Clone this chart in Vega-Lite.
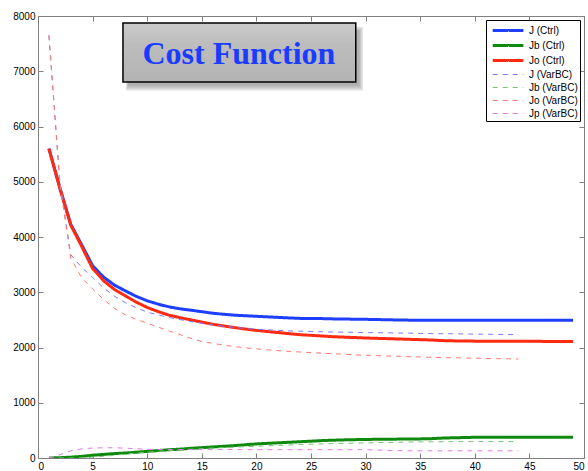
{
  "$schema": "https://vega.github.io/schema/vega-lite/v6.json",
  "width": 546,
  "height": 442,
  "autosize": "none",
  "padding": {"left": 38, "top": 16, "right": 4, "bottom": 13},
  "background": "white",
  "config": {
    "view": {"stroke": null},
    "axis": {
      "domainColor": "#808080", "tickColor": "#808080", "tickSize": -5,
      "labelColor": "#000", "labelFont": "Liberation Sans", "labelFontSize": 10,
      "grid": false, "title": null, "labelPadding": 8
    },
    "legend": {
      "orient": "top-right", "offset": 4, "padding": 2,
      "strokeColor": "#000", "fillColor": "#fff",
      "labelFont": "Liberation Sans", "labelFontSize": 10, "labelColor": "#000",
      "symbolType": "M-0.55,0L3.9,0", "symbolSize": 190, "rowPadding": 0, "labelOffset": 24, "title": null
    }
  },
  "datasets": {
    "lines": [
      {"x":1,"s":"J (Ctrl)","v":5600},{"x":2,"s":"J (Ctrl)","v":4890},{"x":3,"s":"J (Ctrl)","v":4230},{"x":4,"s":"J (Ctrl)","v":3860},{"x":5,"s":"J (Ctrl)","v":3480},{"x":6,"s":"J (Ctrl)","v":3275},{"x":7,"s":"J (Ctrl)","v":3130},{"x":8,"s":"J (Ctrl)","v":3025},{"x":9,"s":"J (Ctrl)","v":2925},{"x":10,"s":"J (Ctrl)","v":2845},
      {"x":11,"s":"J (Ctrl)","v":2785},{"x":12,"s":"J (Ctrl)","v":2735},{"x":13,"s":"J (Ctrl)","v":2700},{"x":14,"s":"J (Ctrl)","v":2675},{"x":15,"s":"J (Ctrl)","v":2648},{"x":16,"s":"J (Ctrl)","v":2620},{"x":17,"s":"J (Ctrl)","v":2602},{"x":18,"s":"J (Ctrl)","v":2585},{"x":19,"s":"J (Ctrl)","v":2575},{"x":20,"s":"J (Ctrl)","v":2565},
      {"x":21,"s":"J (Ctrl)","v":2555},{"x":22,"s":"J (Ctrl)","v":2545},{"x":23,"s":"J (Ctrl)","v":2535},{"x":24,"s":"J (Ctrl)","v":2527},{"x":25,"s":"J (Ctrl)","v":2525},{"x":26,"s":"J (Ctrl)","v":2523},{"x":27,"s":"J (Ctrl)","v":2518},{"x":28,"s":"J (Ctrl)","v":2516},{"x":29,"s":"J (Ctrl)","v":2512},{"x":30,"s":"J (Ctrl)","v":2510},
      {"x":31,"s":"J (Ctrl)","v":2506},{"x":32,"s":"J (Ctrl)","v":2502},{"x":33,"s":"J (Ctrl)","v":2498},{"x":34,"s":"J (Ctrl)","v":2495},{"x":35,"s":"J (Ctrl)","v":2495},{"x":36,"s":"J (Ctrl)","v":2495},{"x":37,"s":"J (Ctrl)","v":2495},{"x":38,"s":"J (Ctrl)","v":2495},{"x":39,"s":"J (Ctrl)","v":2495},{"x":40,"s":"J (Ctrl)","v":2495},
      {"x":41,"s":"J (Ctrl)","v":2495},{"x":42,"s":"J (Ctrl)","v":2495},{"x":43,"s":"J (Ctrl)","v":2495},{"x":44,"s":"J (Ctrl)","v":2495},{"x":45,"s":"J (Ctrl)","v":2495},{"x":46,"s":"J (Ctrl)","v":2495},{"x":47,"s":"J (Ctrl)","v":2495},{"x":48,"s":"J (Ctrl)","v":2495},{"x":49,"s":"J (Ctrl)","v":2495},

      {"x":1,"s":"Jb (Ctrl)","v":0},{"x":2,"s":"Jb (Ctrl)","v":5},{"x":3,"s":"Jb (Ctrl)","v":15},{"x":4,"s":"Jb (Ctrl)","v":30},{"x":5,"s":"Jb (Ctrl)","v":50},{"x":6,"s":"Jb (Ctrl)","v":65},{"x":7,"s":"Jb (Ctrl)","v":80},{"x":8,"s":"Jb (Ctrl)","v":90},{"x":9,"s":"Jb (Ctrl)","v":105},{"x":10,"s":"Jb (Ctrl)","v":120},
      {"x":11,"s":"Jb (Ctrl)","v":135},{"x":12,"s":"Jb (Ctrl)","v":150},{"x":13,"s":"Jb (Ctrl)","v":160},{"x":14,"s":"Jb (Ctrl)","v":175},{"x":15,"s":"Jb (Ctrl)","v":188},{"x":16,"s":"Jb (Ctrl)","v":200},{"x":17,"s":"Jb (Ctrl)","v":212},{"x":18,"s":"Jb (Ctrl)","v":225},{"x":19,"s":"Jb (Ctrl)","v":240},{"x":20,"s":"Jb (Ctrl)","v":255},
      {"x":21,"s":"Jb (Ctrl)","v":265},{"x":22,"s":"Jb (Ctrl)","v":275},{"x":23,"s":"Jb (Ctrl)","v":285},{"x":24,"s":"Jb (Ctrl)","v":295},{"x":25,"s":"Jb (Ctrl)","v":305},{"x":26,"s":"Jb (Ctrl)","v":315},{"x":27,"s":"Jb (Ctrl)","v":322},{"x":28,"s":"Jb (Ctrl)","v":328},{"x":29,"s":"Jb (Ctrl)","v":332},{"x":30,"s":"Jb (Ctrl)","v":336},
      {"x":31,"s":"Jb (Ctrl)","v":338},{"x":32,"s":"Jb (Ctrl)","v":340},{"x":33,"s":"Jb (Ctrl)","v":342},{"x":34,"s":"Jb (Ctrl)","v":344},{"x":35,"s":"Jb (Ctrl)","v":346},{"x":36,"s":"Jb (Ctrl)","v":350},{"x":37,"s":"Jb (Ctrl)","v":360},{"x":38,"s":"Jb (Ctrl)","v":366},{"x":39,"s":"Jb (Ctrl)","v":370},{"x":40,"s":"Jb (Ctrl)","v":375},
      {"x":41,"s":"Jb (Ctrl)","v":375},{"x":42,"s":"Jb (Ctrl)","v":375},{"x":43,"s":"Jb (Ctrl)","v":375},{"x":44,"s":"Jb (Ctrl)","v":375},{"x":45,"s":"Jb (Ctrl)","v":375},{"x":46,"s":"Jb (Ctrl)","v":375},{"x":47,"s":"Jb (Ctrl)","v":375},{"x":48,"s":"Jb (Ctrl)","v":375},{"x":49,"s":"Jb (Ctrl)","v":375},

      {"x":1,"s":"Jo (Ctrl)","v":5600},{"x":2,"s":"Jo (Ctrl)","v":4885},{"x":3,"s":"Jo (Ctrl)","v":4215},{"x":4,"s":"Jo (Ctrl)","v":3830},{"x":5,"s":"Jo (Ctrl)","v":3430},{"x":6,"s":"Jo (Ctrl)","v":3210},{"x":7,"s":"Jo (Ctrl)","v":3050},{"x":8,"s":"Jo (Ctrl)","v":2935},{"x":9,"s":"Jo (Ctrl)","v":2820},{"x":10,"s":"Jo (Ctrl)","v":2725},
      {"x":11,"s":"Jo (Ctrl)","v":2650},{"x":12,"s":"Jo (Ctrl)","v":2585},{"x":13,"s":"Jo (Ctrl)","v":2540},{"x":14,"s":"Jo (Ctrl)","v":2500},{"x":15,"s":"Jo (Ctrl)","v":2460},{"x":16,"s":"Jo (Ctrl)","v":2420},{"x":17,"s":"Jo (Ctrl)","v":2390},{"x":18,"s":"Jo (Ctrl)","v":2360},{"x":19,"s":"Jo (Ctrl)","v":2335},{"x":20,"s":"Jo (Ctrl)","v":2310},
      {"x":21,"s":"Jo (Ctrl)","v":2290},{"x":22,"s":"Jo (Ctrl)","v":2270},{"x":23,"s":"Jo (Ctrl)","v":2250},{"x":24,"s":"Jo (Ctrl)","v":2232},{"x":25,"s":"Jo (Ctrl)","v":2220},{"x":26,"s":"Jo (Ctrl)","v":2208},{"x":27,"s":"Jo (Ctrl)","v":2196},{"x":28,"s":"Jo (Ctrl)","v":2188},{"x":29,"s":"Jo (Ctrl)","v":2180},{"x":30,"s":"Jo (Ctrl)","v":2172},
      {"x":31,"s":"Jo (Ctrl)","v":2166},{"x":32,"s":"Jo (Ctrl)","v":2160},{"x":33,"s":"Jo (Ctrl)","v":2154},{"x":34,"s":"Jo (Ctrl)","v":2148},{"x":35,"s":"Jo (Ctrl)","v":2142},{"x":36,"s":"Jo (Ctrl)","v":2136},{"x":37,"s":"Jo (Ctrl)","v":2125},{"x":38,"s":"Jo (Ctrl)","v":2120},{"x":39,"s":"Jo (Ctrl)","v":2118},{"x":40,"s":"Jo (Ctrl)","v":2115},
      {"x":41,"s":"Jo (Ctrl)","v":2115},{"x":42,"s":"Jo (Ctrl)","v":2114},{"x":43,"s":"Jo (Ctrl)","v":2113},{"x":44,"s":"Jo (Ctrl)","v":2112},{"x":45,"s":"Jo (Ctrl)","v":2112},{"x":46,"s":"Jo (Ctrl)","v":2111},{"x":47,"s":"Jo (Ctrl)","v":2110},{"x":48,"s":"Jo (Ctrl)","v":2110},{"x":49,"s":"Jo (Ctrl)","v":2110},

      {"x":1,"s":"J (VarBC)","v":7650},{"x":2,"s":"J (VarBC)","v":5000},{"x":3,"s":"J (VarBC)","v":3680},{"x":4,"s":"J (VarBC)","v":3450},{"x":5,"s":"J (VarBC)","v":3270},{"x":6,"s":"J (VarBC)","v":3080},{"x":7,"s":"J (VarBC)","v":2930},{"x":8,"s":"J (VarBC)","v":2810},{"x":9,"s":"J (VarBC)","v":2720},{"x":10,"s":"J (VarBC)","v":2640},
      {"x":11,"s":"J (VarBC)","v":2590},{"x":12,"s":"J (VarBC)","v":2545},{"x":13,"s":"J (VarBC)","v":2505},{"x":14,"s":"J (VarBC)","v":2470},{"x":15,"s":"J (VarBC)","v":2440},{"x":16,"s":"J (VarBC)","v":2410},{"x":17,"s":"J (VarBC)","v":2385},{"x":18,"s":"J (VarBC)","v":2365},{"x":19,"s":"J (VarBC)","v":2345},{"x":20,"s":"J (VarBC)","v":2330},
      {"x":21,"s":"J (VarBC)","v":2320},{"x":22,"s":"J (VarBC)","v":2310},{"x":23,"s":"J (VarBC)","v":2300},{"x":24,"s":"J (VarBC)","v":2295},{"x":25,"s":"J (VarBC)","v":2290},{"x":26,"s":"J (VarBC)","v":2285},{"x":27,"s":"J (VarBC)","v":2280},{"x":28,"s":"J (VarBC)","v":2277},{"x":29,"s":"J (VarBC)","v":2274},{"x":30,"s":"J (VarBC)","v":2270},
      {"x":31,"s":"J (VarBC)","v":2268},{"x":32,"s":"J (VarBC)","v":2265},{"x":33,"s":"J (VarBC)","v":2262},{"x":34,"s":"J (VarBC)","v":2260},{"x":35,"s":"J (VarBC)","v":2255},{"x":36,"s":"J (VarBC)","v":2252},{"x":37,"s":"J (VarBC)","v":2250},{"x":38,"s":"J (VarBC)","v":2248},{"x":39,"s":"J (VarBC)","v":2245},{"x":40,"s":"J (VarBC)","v":2242},
      {"x":41,"s":"J (VarBC)","v":2240},{"x":42,"s":"J (VarBC)","v":2238},{"x":43,"s":"J (VarBC)","v":2235},{"x":44,"s":"J (VarBC)","v":2232},

      {"x":1,"s":"Jb (VarBC)","v":0},{"x":2,"s":"Jb (VarBC)","v":0},{"x":3,"s":"Jb (VarBC)","v":0},{"x":4,"s":"Jb (VarBC)","v":5},{"x":5,"s":"Jb (VarBC)","v":15},{"x":6,"s":"Jb (VarBC)","v":30},{"x":7,"s":"Jb (VarBC)","v":50},{"x":8,"s":"Jb (VarBC)","v":70},{"x":9,"s":"Jb (VarBC)","v":90},{"x":10,"s":"Jb (VarBC)","v":105},
      {"x":11,"s":"Jb (VarBC)","v":120},{"x":12,"s":"Jb (VarBC)","v":135},{"x":13,"s":"Jb (VarBC)","v":148},{"x":14,"s":"Jb (VarBC)","v":160},{"x":15,"s":"Jb (VarBC)","v":170},{"x":16,"s":"Jb (VarBC)","v":180},{"x":17,"s":"Jb (VarBC)","v":188},{"x":18,"s":"Jb (VarBC)","v":196},{"x":19,"s":"Jb (VarBC)","v":204},{"x":20,"s":"Jb (VarBC)","v":212},
      {"x":21,"s":"Jb (VarBC)","v":220},{"x":22,"s":"Jb (VarBC)","v":228},{"x":23,"s":"Jb (VarBC)","v":236},{"x":24,"s":"Jb (VarBC)","v":243},{"x":25,"s":"Jb (VarBC)","v":250},{"x":26,"s":"Jb (VarBC)","v":255},{"x":27,"s":"Jb (VarBC)","v":260},{"x":28,"s":"Jb (VarBC)","v":265},{"x":29,"s":"Jb (VarBC)","v":269},{"x":30,"s":"Jb (VarBC)","v":273},
      {"x":31,"s":"Jb (VarBC)","v":277},{"x":32,"s":"Jb (VarBC)","v":281},{"x":33,"s":"Jb (VarBC)","v":285},{"x":34,"s":"Jb (VarBC)","v":288},{"x":35,"s":"Jb (VarBC)","v":291},{"x":36,"s":"Jb (VarBC)","v":293},{"x":37,"s":"Jb (VarBC)","v":295},{"x":38,"s":"Jb (VarBC)","v":296},{"x":39,"s":"Jb (VarBC)","v":297},{"x":40,"s":"Jb (VarBC)","v":297},
      {"x":41,"s":"Jb (VarBC)","v":297},{"x":42,"s":"Jb (VarBC)","v":297},{"x":43,"s":"Jb (VarBC)","v":297},{"x":44,"s":"Jb (VarBC)","v":297},

      {"x":1,"s":"Jo (VarBC)","v":7650},{"x":2,"s":"Jo (VarBC)","v":4980},{"x":3,"s":"Jo (VarBC)","v":3620},{"x":4,"s":"Jo (VarBC)","v":3260},{"x":5,"s":"Jo (VarBC)","v":3060},{"x":6,"s":"Jo (VarBC)","v":2870},{"x":7,"s":"Jo (VarBC)","v":2710},{"x":8,"s":"Jo (VarBC)","v":2590},{"x":9,"s":"Jo (VarBC)","v":2510},{"x":10,"s":"Jo (VarBC)","v":2440},
      {"x":11,"s":"Jo (VarBC)","v":2370},{"x":12,"s":"Jo (VarBC)","v":2300},{"x":13,"s":"Jo (VarBC)","v":2235},{"x":14,"s":"Jo (VarBC)","v":2165},{"x":15,"s":"Jo (VarBC)","v":2110},{"x":16,"s":"Jo (VarBC)","v":2075},{"x":17,"s":"Jo (VarBC)","v":2045},{"x":18,"s":"Jo (VarBC)","v":2015},{"x":19,"s":"Jo (VarBC)","v":1995},{"x":20,"s":"Jo (VarBC)","v":1975},
      {"x":21,"s":"Jo (VarBC)","v":1958},{"x":22,"s":"Jo (VarBC)","v":1942},{"x":23,"s":"Jo (VarBC)","v":1930},{"x":24,"s":"Jo (VarBC)","v":1918},{"x":25,"s":"Jo (VarBC)","v":1908},{"x":26,"s":"Jo (VarBC)","v":1898},{"x":27,"s":"Jo (VarBC)","v":1888},{"x":28,"s":"Jo (VarBC)","v":1878},{"x":29,"s":"Jo (VarBC)","v":1868},{"x":30,"s":"Jo (VarBC)","v":1860},
      {"x":31,"s":"Jo (VarBC)","v":1853},{"x":32,"s":"Jo (VarBC)","v":1846},{"x":33,"s":"Jo (VarBC)","v":1840},{"x":34,"s":"Jo (VarBC)","v":1834},{"x":35,"s":"Jo (VarBC)","v":1828},{"x":36,"s":"Jo (VarBC)","v":1823},{"x":37,"s":"Jo (VarBC)","v":1818},{"x":38,"s":"Jo (VarBC)","v":1814},{"x":39,"s":"Jo (VarBC)","v":1810},{"x":40,"s":"Jo (VarBC)","v":1806},
      {"x":41,"s":"Jo (VarBC)","v":1802},{"x":42,"s":"Jo (VarBC)","v":1798},{"x":43,"s":"Jo (VarBC)","v":1795},{"x":44,"s":"Jo (VarBC)","v":1792},

      {"x":1,"s":"Jp (VarBC)","v":0},{"x":2,"s":"Jp (VarBC)","v":60},{"x":3,"s":"Jp (VarBC)","v":130},{"x":4,"s":"Jp (VarBC)","v":165},{"x":5,"s":"Jp (VarBC)","v":180},{"x":6,"s":"Jp (VarBC)","v":185},{"x":7,"s":"Jp (VarBC)","v":185},{"x":8,"s":"Jp (VarBC)","v":178},{"x":9,"s":"Jp (VarBC)","v":168},{"x":10,"s":"Jp (VarBC)","v":158},
      {"x":11,"s":"Jp (VarBC)","v":153},{"x":12,"s":"Jp (VarBC)","v":152},{"x":13,"s":"Jp (VarBC)","v":152},{"x":14,"s":"Jp (VarBC)","v":152},{"x":15,"s":"Jp (VarBC)","v":152},{"x":16,"s":"Jp (VarBC)","v":152},{"x":17,"s":"Jp (VarBC)","v":152},{"x":18,"s":"Jp (VarBC)","v":152},{"x":19,"s":"Jp (VarBC)","v":151},{"x":20,"s":"Jp (VarBC)","v":151},
      {"x":21,"s":"Jp (VarBC)","v":151},{"x":22,"s":"Jp (VarBC)","v":151},{"x":23,"s":"Jp (VarBC)","v":151},{"x":24,"s":"Jp (VarBC)","v":150},{"x":25,"s":"Jp (VarBC)","v":150},{"x":26,"s":"Jp (VarBC)","v":150},{"x":27,"s":"Jp (VarBC)","v":150},{"x":28,"s":"Jp (VarBC)","v":150},{"x":29,"s":"Jp (VarBC)","v":150},{"x":30,"s":"Jp (VarBC)","v":150},
      {"x":31,"s":"Jp (VarBC)","v":145},{"x":32,"s":"Jp (VarBC)","v":138},{"x":33,"s":"Jp (VarBC)","v":133},{"x":34,"s":"Jp (VarBC)","v":130},{"x":35,"s":"Jp (VarBC)","v":130},{"x":36,"s":"Jp (VarBC)","v":130},{"x":37,"s":"Jp (VarBC)","v":130},{"x":38,"s":"Jp (VarBC)","v":130},{"x":39,"s":"Jp (VarBC)","v":130},{"x":40,"s":"Jp (VarBC)","v":130},
      {"x":41,"s":"Jp (VarBC)","v":130},{"x":42,"s":"Jp (VarBC)","v":130},{"x":43,"s":"Jp (VarBC)","v":130},{"x":44,"s":"Jp (VarBC)","v":130}
    ],
    "shadow": [
      {"x1": 8.05, "x2": 29.75, "y1": 6650, "y2": 7800},
      {"x1": 8.15, "x2": 29.6, "y1": 6690, "y2": 7770},
      {"x1": 8.25, "x2": 29.45, "y1": 6730, "y2": 7740}
    ],
    "box": [{"x1": 7.78, "x2": 29.1, "y1": 6805, "y2": 7873}],
    "title": [{"x": 18.4, "y": 7140, "label": "Cost Function"}]
  },
  "layer": [
    {
      "data": {"name": "lines"},
      "mark": {"type": "line", "clip": true},
      "encoding": {
        "x": {"field": "x", "type": "quantitative",
              "scale": {"domain": [0, 50], "nice": false, "zero": false},
              "axis": {"orient": "bottom", "values": [0,5,10,15,20,25,30,35,40,45,50]}},
        "y": {"field": "v", "type": "quantitative",
              "scale": {"domain": [0, 8000], "nice": false},
              "axis": {"orient": "left", "format": "d", "values": [0,1000,2000,3000,4000,5000,6000,7000,8000]}},
        "color": {"field": "s", "type": "nominal",
          "scale": {"domain": ["J (Ctrl)","Jb (Ctrl)","Jo (Ctrl)","J (VarBC)","Jb (VarBC)","Jo (VarBC)","Jp (VarBC)"],
                    "range": ["#1f3fff","#0f8a0f","#ff2a10","#7a7aff","#78c478","#ff7a70","#e07ae0"]},
          "legend": {"title": null}},
        "strokeDash": {"field": "s", "type": "nominal",
          "scale": {"domain": ["J (Ctrl)","Jb (Ctrl)","Jo (Ctrl)","J (VarBC)","Jb (VarBC)","Jo (VarBC)","Jp (VarBC)"],
                    "range": [[1,0],[1,0],[1,0],[5,5],[5,5],[5,5],[5,5]]},
          "legend": {"title": null}},
        "strokeWidth": {"field": "s", "type": "nominal",
          "scale": {"type": "ordinal", "domain": ["J (Ctrl)","Jb (Ctrl)","Jo (Ctrl)","J (VarBC)","Jb (VarBC)","Jo (VarBC)","Jp (VarBC)"],
                    "range": [3,3,3,1,1,1,1]},
          "legend": {"title": null}},
        "order": {"field": "x", "type": "quantitative"}
      }
    },
    {
      "data": {"name": "shadow"},
      "mark": {"type": "rect", "fill": "#555", "opacity": 0.18},
      "encoding": {
        "x": {"field": "x1", "type": "quantitative",
              "axis": {"orient": "top", "labels": false, "domain": true, "values": [0,5,10,15,20,25,30,35,40,45,50]}},
        "x2": {"field": "x2"},
        "y": {"field": "y1", "type": "quantitative",
              "axis": {"orient": "right", "labels": false, "domain": true, "values": [0,1000,2000,3000,4000,5000,6000,7000,8000]}},
        "y2": {"field": "y2"}
      }
    },
    {
      "data": {"name": "box"},
      "mark": {"type": "rect", "stroke": "#000", "strokeWidth": 1.5,
               "fill": {"gradient": "linear", "x1": 0, "y1": 0, "x2": 0, "y2": 1,
                        "stops": [{"offset": 0, "color": "#cbcbcb"}, {"offset": 0.35, "color": "#bdbdbd"}, {"offset": 1, "color": "#b3b3b3"}]}},
      "encoding": {
        "x": {"field": "x1", "type": "quantitative", "axis": null},
        "x2": {"field": "x2"},
        "y": {"field": "y1", "type": "quantitative", "axis": null},
        "y2": {"field": "y2"}
      }
    },
    {
      "data": {"name": "title"},
      "mark": {"type": "text", "font": "Liberation Serif", "fontWeight": "bold", "fontSize": 32, "color": "#1a3cff", "align": "center", "baseline": "alphabetic"},
      "encoding": {
        "x": {"field": "x", "type": "quantitative", "axis": null},
        "y": {"field": "y", "type": "quantitative", "axis": null},
        "text": {"field": "label"}
      }
    }
  ],
  "resolve": {"axis": {"x": "independent", "y": "independent"}}
}
